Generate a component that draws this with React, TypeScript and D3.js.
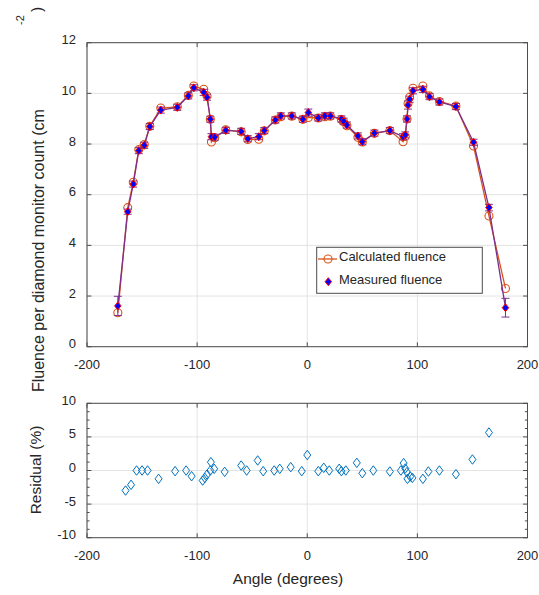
import React from 'react';
import * as d3 from 'd3';

const angles = [-172, -163, -158, -153, -148, -143, -133, -118, -108, -103, -94, -91, -88, -87, -84, -74, -60, -54, -44, -39, -29, -24, -14, -4, 1, 10, 16, 21, 31, 33, 36, 46, 50, 61, 75, 87, 89, 90.6, 91.5, 93, 96, 105, 111, 120, 135, 151, 165, 180];
const measured = [1.61, 5.33, 6.42, 7.74, 7.95, 8.69, 9.34, 9.45, 9.9, 10.22, 10.04, 9.85, 8.98, 8.29, 8.27, 8.54, 8.5, 8.21, 8.29, 8.53, 8.95, 9.11, 9.11, 8.98, 9.24, 9.03, 9.11, 9.11, 8.99, 8.9, 8.75, 8.32, 8.09, 8.43, 8.53, 8.29, 8.36, 8.99, 9.54, 9.77, 10.1, 10.16, 9.87, 9.66, 9.48, 8.07, 5.49, 1.54];
const calculated = [1.34, 5.49, 6.49, 7.78, 7.98, 8.7, 9.42, 9.47, 9.92, 10.29, 10.16, 9.9, 8.98, 8.08, 8.25, 8.56, 8.48, 8.18, 8.19, 8.52, 8.95, 9.08, 9.1, 8.98, 9.05, 9.03, 9.08, 9.1, 8.97, 8.88, 8.72, 8.27, 8.08, 8.42, 8.53, 8.09, 8.3, 8.99, 9.6, 9.85, 10.2, 10.29, 9.9, 9.68, 9.5, 7.92, 5.16, 2.3];
const measuredErr = [0.38, 0.1, 0.12, 0.12, 0.12, 0.12, 0.12, 0.12, 0.12, 0.12, 0.12, 0.12, 0.12, 0.12, 0.12, 0.12, 0.12, 0.12, 0.12, 0.12, 0.12, 0.12, 0.12, 0.12, 0.14, 0.12, 0.12, 0.12, 0.12, 0.12, 0.12, 0.12, 0.12, 0.12, 0.12, 0.12, 0.12, 0.12, 0.16, 0.12, 0.12, 0.12, 0.12, 0.12, 0.12, 0.12, 0.13, 0.37];

const residualAngles = [-165, -160, -155, -150, -145, -135, -120, -110, -105, -95, -93, -91, -88, -87.5, -84.5, -75, -60, -55, -45, -40, -30, -25, -15, -5, 0, 10, 15, 20, 29, 31, 35, 45, 50, 60, 75, 85, 87.5, 89, 90.5, 91, 93.5, 95.5, 105, 110, 120, 135, 150, 165];
const residualValues = [-2.98, -2.13, 0, 0, 0, -1.24, -0.1, 0, -0.85, -1.5, -1.1, -0.6, 0, 1.24, 0.25, -0.2, 0.74, 0, 1.49, -0.1, 0, 0.25, 0.5, -0.1, 2.3, -0.1, 0.4, 0, 0.25, -0.1, 0, 1.14, -0.4, 0, -0.15, 0, 1.1, 0.3, -0.25, -1.24, -0.9, -1.1, -1.24, -0.15, 0, -0.55, 1.64, 5.65];

const xTicks = [-200, -100, 0, 100, 200];
const yTicksTop = [0, 2, 4, 6, 8, 10, 12];
const yTicksBottom = [-10, -5, 0, 5, 10];
const yMinorBottom = [-8.75, -7.5, -6.25, -3.75, -2.5, -1.25, 1.25, 2.5, 3.75, 6.25, 7.5, 8.75];

const FONT = '"Liberation Sans", Arial, Helvetica, sans-serif';
const AX = '#4d4d4d';
const TXT = '#262626';
const GRID = '#e3e3e3';

function Axes({ x, y, xt, yt, ymin, top, bottom, left, right }: any) {
  const tl = 4.4;
  return (
    <g>
      {xt.map((t: number) => (
        <line key={'gx' + t} x1={x(t)} x2={x(t)} y1={top} y2={bottom} stroke={GRID} strokeWidth={1} />
      ))}
      {yt.map((t: number) => (
        <line key={'gy' + t} x1={left} x2={right} y1={y(t)} y2={y(t)} stroke={GRID} strokeWidth={1} />
      ))}
      <rect x={left} y={top} width={right - left} height={bottom - top} fill="none" stroke={AX} strokeWidth={1} />
      {xt.map((t: number) => (
        <g key={'tx' + t}>
          <line x1={x(t)} x2={x(t)} y1={bottom} y2={bottom - tl} stroke={AX} />
          <line x1={x(t)} x2={x(t)} y1={top} y2={top + tl} stroke={AX} />
          <text x={x(t)} y={bottom + 22} textAnchor="middle" fontSize={13} fill={TXT} fontFamily={FONT}>{t}</text>
        </g>
      ))}
      {yt.map((t: number) => (
        <g key={'ty' + t}>
          <line x1={left} x2={left + tl} y1={y(t)} y2={y(t)} stroke={AX} />
          <line x1={right} x2={right - tl} y1={y(t)} y2={y(t)} stroke={AX} />
          <text x={left - 11} y={y(t) + 1.5} textAnchor="end" fontSize={13} fill={TXT} fontFamily={FONT}>{t}</text>
        </g>
      ))}
      {(ymin || []).map((t: number) => (
        <g key={'my' + t}>
          <line x1={left} x2={left + 2.6} y1={y(t)} y2={y(t)} stroke={AX} />
          <line x1={right} x2={right - 2.6} y1={y(t)} y2={y(t)} stroke={AX} />
        </g>
      ))}
    </g>
  );
}

export default function App() {
  const W = 539, H = 595;
  const xL = 87, xR = 527.5;
  const topT = 42.7, topB = 346.7;
  const botT = 403.3, botB = 537.7;
  const x = d3.scaleLinear().domain([-200, 200]).range([xL, xR]);
  const yTop = d3.scaleLinear().domain([0, 12]).range([topB, topT]);
  const yBot = d3.scaleLinear().domain([-10, 10]).range([botB, botT]);
  const idx = d3.range(angles.length);
  const lineCalc = d3.line<number>().x(i => x(angles[i])).y(i => yTop(calculated[i]))(idx) || '';
  const lineMeas = d3.line<number>().x(i => x(angles[i])).y(i => yTop(measured[i]))(idx) || '';
  const PURPLE = '#7E2F8E';
  const ORANGE = '#D95319';
  const diamond = (cx: number, cy: number, w: number, h: number) =>
    `M${cx},${cy - h / 2}L${cx + w / 2},${cy}L${cx},${cy + h / 2}L${cx - w / 2},${cy}Z`;

  return (
    <svg width={W} height={H} style={{ position: 'absolute', left: 0, top: 0, background: '#fff' }} fontFamily={FONT}>
      <rect x={0} y={0} width={W} height={H} fill="#fff" />
      <Axes x={x} y={yTop} xt={xTicks} yt={yTicksTop} top={topT} bottom={topB} left={xL} right={xR} />
      {/* calculated */}
      <path d={lineCalc} fill="none" stroke={ORANGE} strokeWidth={1.3} />
      {idx.map(i => (
        <circle key={'c' + i} cx={x(angles[i])} cy={yTop(calculated[i])} r={4} fill="none" stroke={ORANGE} strokeWidth={1.1} />
      ))}
      {/* measured */}
      <path d={lineMeas} fill="none" stroke={PURPLE} strokeWidth={1.3} />
      {idx.map(i => {
        const cx = x(angles[i]);
        const y1 = yTop(measured[i] + measuredErr[i]);
        const y2 = yTop(measured[i] - measuredErr[i]);
        return (
          <g key={'e' + i} stroke={PURPLE} strokeWidth={1}>
            <line x1={cx} x2={cx} y1={y1} y2={y2} />
            <line x1={cx - 4} x2={cx + 4} y1={y1} y2={y1} />
            <line x1={cx - 4} x2={cx + 4} y1={y2} y2={y2} />
          </g>
        );
      })}
      {idx.map(i => (
        <path key={'m' + i} d={diamond(x(angles[i]), yTop(measured[i]), 6.5, 8)} fill="#0000FF" stroke="#FF0000" strokeWidth={1} />
      ))}
      {/* legend */}
      <rect x={316.7} y={247.3} width={165.6} height={46} fill="#fff" stroke={AX} strokeWidth={1} />
      <line x1={318} x2={337} y1={259} y2={259} stroke={ORANGE} strokeWidth={1.3} />
      <circle cx={328} cy={259} r={4} fill="none" stroke={ORANGE} strokeWidth={1.1} />
      <text x={339} y={261} fontSize={13} fill={TXT}>Calculated fluence</text>
      <path d={diamond(328.3, 281.7, 6.5, 8)} fill="#0000FF" stroke="#FF0000" strokeWidth={1} />
      <text x={339} y={284} fontSize={13} fill={TXT}>Measured fluence</text>
      {/* y label top */}
      <text transform={`translate(43.5,392) rotate(-90)`} fontSize={16} fill={TXT} textAnchor="start">Fluence per diamond monitor count (cm</text>
      <text transform={`translate(24,25) rotate(-90)`} fontSize={11} fill={TXT} textAnchor="start">-2</text>
      <text transform={`translate(42,12) rotate(-90)`} fontSize={15.5} fill={TXT} textAnchor="start">)</text>

      {/* bottom plot */}
      <Axes x={x} y={yBot} xt={xTicks} yt={yTicksBottom} ymin={yMinorBottom} top={botT} bottom={botB} left={xL} right={xR} />
      {residualAngles.map((a, i) => (
        <path key={'r' + i} d={diamond(x(a), yBot(residualValues[i]), 7, 9.5)} fill="none" stroke="#0072BD" strokeWidth={1} />
      ))}
      <text transform={`translate(41,470) rotate(-90)`} fontSize={15.5} fill={TXT} textAnchor="middle">Residual (%)</text>
      <text x={288} y={584} fontSize={15.5} fill={TXT} textAnchor="middle">Angle (degrees)</text>
    </svg>
  );
}
